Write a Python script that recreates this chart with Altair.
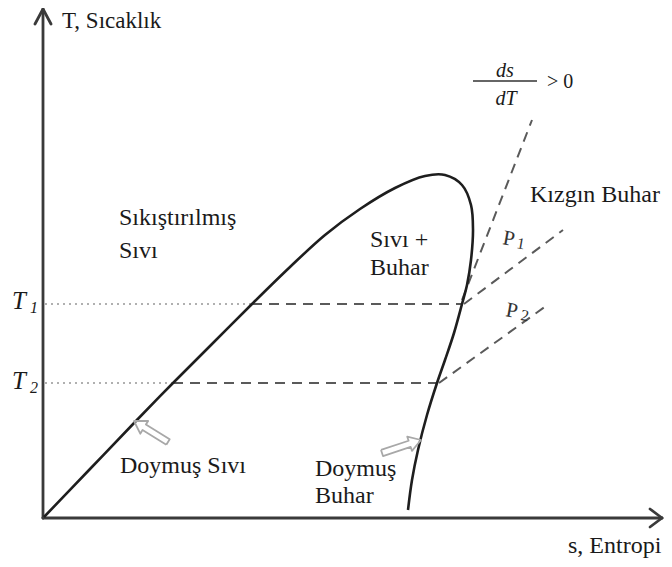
import math
import altair as alt
import pandas as pd

# ---- data (image-space coordinates of the schematic T-s diagram) ----
# saturation dome: saturated liquid line -> critical point -> saturated vapour line
dome_s = [44, 90, 135, 173, 212, 252, 290, 325, 360, 395, 425, 445, 462, 471, 473, 471, 467, 462, 454, 445, 437, 427, 418, 412, 408]
dome_T = [517, 469, 422, 383, 344, 304, 267, 235, 209, 188, 176, 175, 185, 205, 230, 260, 285, 304, 333, 360, 383, 415, 450, 480, 510]

# axes (origin, ends) and arrow heads
axis_x1 = [43, 43, 43, 43, 43, 662, 662]
axis_y1 = [518, 518, 518, 9, 9, 518, 518]
axis_x2 = [43, 662, 43, 35, 51, 650, 650]
axis_y2 = [10, 518, 518, 24, 24, 509, 527]

# isotherm levels T1, T2 and where they meet the dome
iso_T = [304, 383]
iso_liq = [252, 173]
iso_vap = [462, 437]

# superheated constant-pressure / ds/dT lines (start -> end)
sh_x1 = [462, 464, 439]
sh_y1 = [300, 304, 383]
sh_x2 = [532, 563, 546]
sh_y2 = [120, 230, 306]

# fraction bar of ds/dT
frac_x = [473, 537]
frac_y = [81, 81]

# hollow pointer arrows (tail -> tip)
arr_tail_x = [168, 382]
arr_tail_y = [442, 453]
arr_tip_x = [134, 421]
arr_tip_y = [421, 440]

# labels
lab_text = ["T, Sıcaklık", "s, Entropi", "Kızgın Buhar", "Sıkıştırılmış", "Sıvı",
            "Sıvı +", "Buhar", "Doymuş Sıvı", "Doymuş", "Buhar", "> 0"]
lab_x = [62, 568, 530, 119, 119, 370, 370, 120, 315, 315, 547]
lab_y = [28, 553, 202, 225, 258, 247, 275, 473, 476, 503, 88]
lab_size = [23, 24, 24, 24, 24, 24, 24, 24, 24, 24, 20]

it_text = ["T", "1", "T", "2", "ds", "dT"]
it_x = [12, 30, 12, 30, 505, 506]
it_y = [309, 313, 389, 393, 77, 105]
it_size = [25, 16, 25, 16, 20, 20]
it_align = ["left", "left", "left", "left", "center", "center"]

p_text = ["P", "1", "P", "2"]
p_x = [502, 516, 505, 520]
p_y = [244, 248, 316, 320]
p_size = [21, 16, 21, 16]

# ---- chart ----
W, H = 656, 551
xs = alt.Scale(domain=[8, 664], nice=False, zero=False)
ys = alt.Scale(domain=[559, 8], nice=False, zero=False)
X = lambda f: alt.X(f, type="quantitative", scale=xs, axis=None)
Y = lambda f: alt.Y(f, type="quantitative", scale=ys, axis=None)

axes_df = pd.DataFrame({"x": axis_x1, "y": axis_y1, "x2": axis_x2, "y2": axis_y2})
axes = alt.Chart(axes_df).mark_rule(color="#3a3a3a", strokeWidth=2.8, strokeCap="round").encode(
    x=X("x"), y=Y("y"), x2="x2", y2="y2")

dotted_df = pd.DataFrame({"x": [45, 45], "y": iso_T, "x2": iso_liq, "y2": iso_T})
dotted = alt.Chart(dotted_df).mark_rule(color="#b0b0b0", strokeWidth=2, strokeDash=[2, 4]).encode(
    x=X("x"), y=Y("y"), x2="x2", y2="y2")

dash_df = pd.DataFrame({
    "x": iso_liq + sh_x1, "y": iso_T + sh_y1,
    "x2": iso_vap + sh_x2, "y2": iso_T + sh_y2})
dashed = alt.Chart(dash_df).mark_rule(color="#5a5a5a", strokeWidth=2, strokeDash=[10, 7]).encode(
    x=X("x"), y=Y("y"), x2="x2", y2="y2")

frac_df = pd.DataFrame({"x": [frac_x[0]], "y": [frac_y[0]], "x2": [frac_x[1]], "y2": [frac_y[1]]})
frac = alt.Chart(frac_df).mark_rule(color="#333333", strokeWidth=1.6).encode(
    x=X("x"), y=Y("y"), x2="x2", y2="y2")

dome_df = pd.DataFrame({"s": dome_s, "T": dome_T, "k": list(range(len(dome_s)))})
dome = alt.Chart(dome_df).mark_line(color="#1e1e1e", strokeWidth=2.6, interpolate="catmull-rom").encode(
    x=X("s"), y=Y("T"), order="k:Q")

# hollow arrows built from tail/tip
rows = []
for i in range(len(arr_tail_x)):
    tx, ty, hx, hy = arr_tail_x[i], arr_tail_y[i], arr_tip_x[i], arr_tip_y[i]
    L = math.hypot(hx - tx, hy - ty)
    ux, uy = (hx - tx) / L, (hy - ty) / L
    nx, ny = -uy, ux
    w, h, hl = 3.2, 7.5, 12.0
    local = [(0, -w), (L - hl, -w), (L - hl, -h), (L, 0), (L - hl, h), (L - hl, w), (0, w), (0, -w)]
    for k, (a, b) in enumerate(local):
        rows.append({"id": i, "k": k, "x": tx + ux * a + nx * b, "y": ty + uy * a + ny * b})
arr_df = pd.DataFrame(rows)
arrows = alt.Chart(arr_df).mark_line(color="#a8a8a8", strokeWidth=1.8, strokeJoin="round").encode(
    x=X("x"), y=Y("y"), detail="id:N", order="k:Q")

lab_df = pd.DataFrame({"t": lab_text, "x": lab_x, "y": lab_y, "s": lab_size})
labels = alt.Chart(lab_df).mark_text(font="Liberation Serif", align="left", baseline="alphabetic",
                                     color="#1a1a1a").encode(
    x=X("x"), y=Y("y"), text="t:N", size=alt.Size("s:Q", scale=None))

it_df = pd.DataFrame({"t": it_text, "x": it_x, "y": it_y, "s": it_size, "a": it_align})
it_left = alt.Chart(it_df[it_df.a == "left"]).mark_text(
    font="Liberation Serif", fontStyle="italic", align="left", baseline="alphabetic", color="#1a1a1a").encode(
    x=X("x"), y=Y("y"), text="t:N", size=alt.Size("s:Q", scale=None))
it_center = alt.Chart(it_df[it_df.a == "center"]).mark_text(
    font="Liberation Serif", fontStyle="italic", align="center", baseline="alphabetic", color="#1a1a1a").encode(
    x=X("x"), y=Y("y"), text="t:N", size=alt.Size("s:Q", scale=None))

p_df = pd.DataFrame({"t": p_text, "x": p_x, "y": p_y, "s": p_size})
plabels = alt.Chart(p_df).mark_text(font="Liberation Serif", align="left", baseline="alphabetic",
                                    color="#333333", angle=10).encode(
    x=X("x"), y=Y("y"), text="t:N", size=alt.Size("s:Q", scale=None))

chart = alt.layer(dotted, dashed, axes, frac, dome, arrows, labels, it_left, it_center, plabels).properties(
    width=W, height=H, padding=0, autosize=alt.AutoSizeParams(type="none"), background="white"
).configure_view(stroke=None)

chart.save("out.html", embed_options={"renderer": "svg", "actions": False})
